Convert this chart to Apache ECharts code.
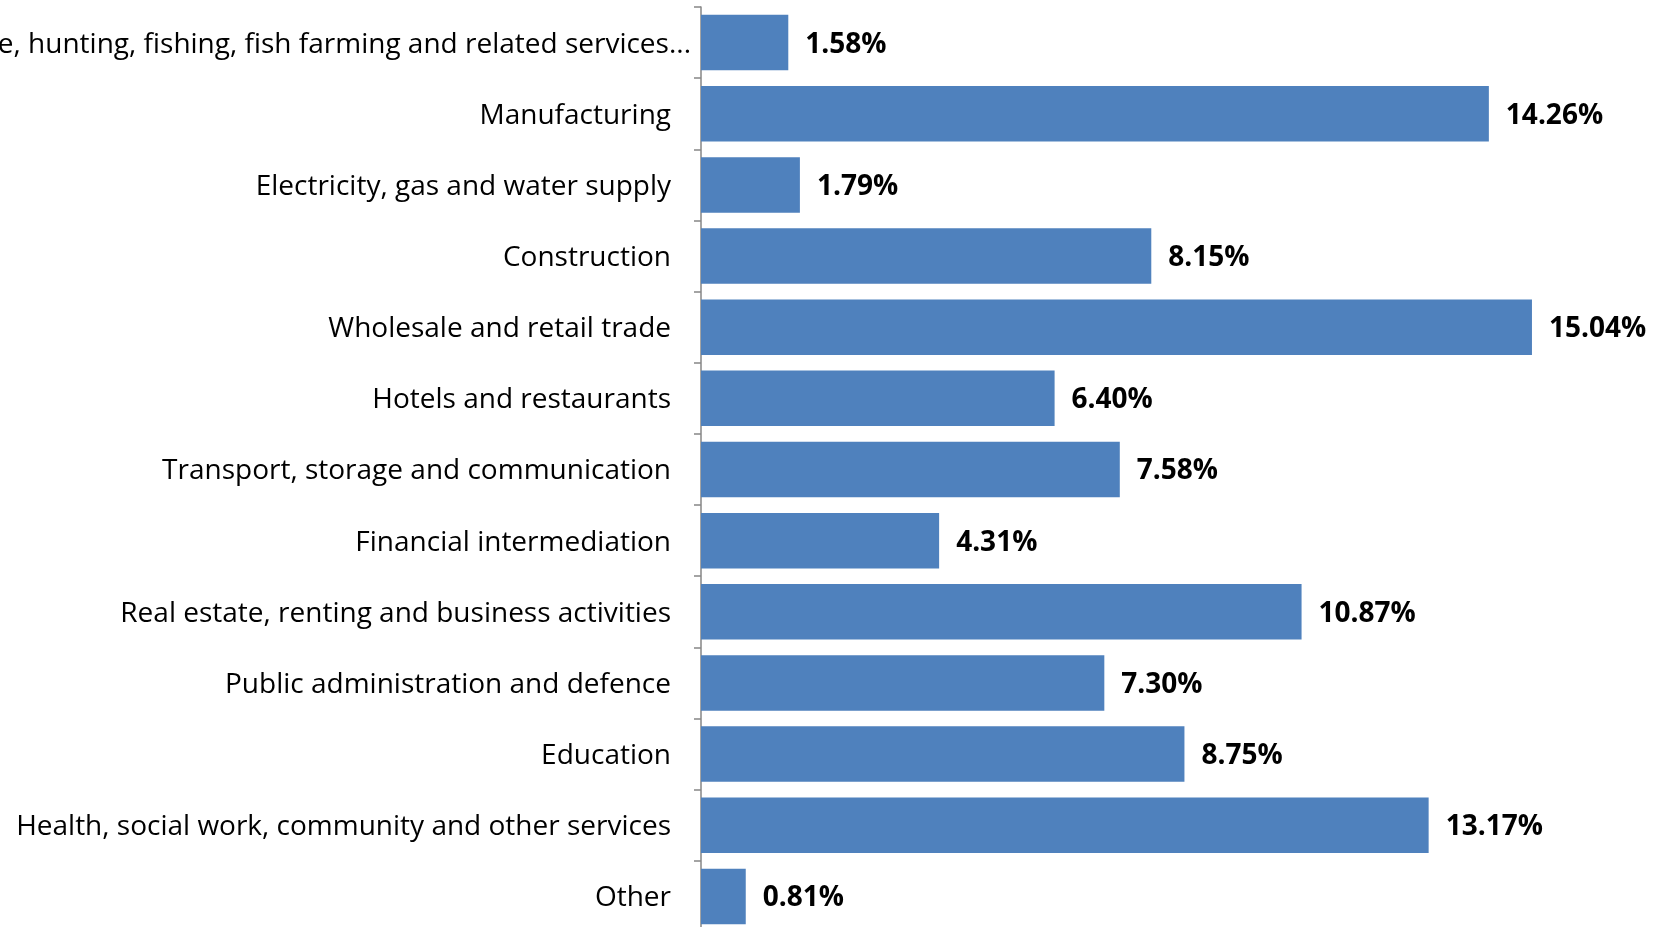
<!DOCTYPE html>
<html>
<head>
<meta charset="utf-8">
<script src="https://cdn.jsdelivr.net/npm/echarts@6/dist/echarts.min.js"></script>
<style>
html,body{margin:0;padding:0;background:#fff;}
#chart{width:1667px;height:927px;}
</style>
</head>
<body>
<div id="chart"></div>
<script>
const categories = [
  "Agriculture, hunting, fishing, fish farming and related services...",
  "Manufacturing",
  "Electricity, gas and water supply",
  "Construction",
  "Wholesale and retail trade",
  "Hotels and restaurants",
  "Transport, storage and communication",
  "Financial intermediation",
  "Real estate, renting and business activities",
  "Public administration and defence",
  "Education",
  "Health, social work, community and other services",
  "Other"
];
const shares = [1.58, 14.26, 1.79, 8.15, 15.04, 6.40, 7.58, 4.31, 10.87, 7.30, 8.75, 13.17, 0.81];

const chart = echarts.init(document.getElementById('chart'), null, {renderer: 'canvas'});
const labelFont = {fontFamily: 'Open Sans', fontSize: 28, color: '#000000'};
chart.setOption({
  animation: false,
  backgroundColor: '#ffffff',
  grid: {left: 701, right: 82, top: 7, height: 925, containLabel: false, outerBoundsMode: 'none'},
  xAxis: {
    type: 'value', min: 0, max: 16, show: false
  },
  yAxis: {
    type: 'category',
    data: categories,
    inverse: true,
    boundaryGap: true,
    axisLine: {show: true, lineStyle: {color: '#868686', width: 1.5}},
    axisTick: {show: true, length: 7, lineStyle: {color: '#868686', width: 1.5}},
    axisLabel: {
      margin: 10,
      color: '#000000',
      fontFamily: 'Open Sans',
      fontSize: 28,
      formatter: (v, i) => (i === 0 ? '{f|' : '{n|') + v + '}',
      rich: {
        f: Object.assign({padding: [4, 0, 0, 0]}, labelFont),
        n: Object.assign({padding: [4, 20, 0, 0]}, labelFont)
      }
    },
    splitLine: {show: false}
  },
  series: [{
    type: 'bar',
    data: shares,
    barCategoryGap: '22%',
    itemStyle: {color: '#4F81BD'},
    label: {
      show: true,
      position: 'right',
      distance: 17,
      offset: [0, 2],
      color: '#000000',
      fontFamily: 'Open Sans',
      fontWeight: 'bold',
      fontSize: 28,
      formatter: p => p.value.toFixed(2) + '%'
    }
  }]
});
</script>
</body>
</html>
